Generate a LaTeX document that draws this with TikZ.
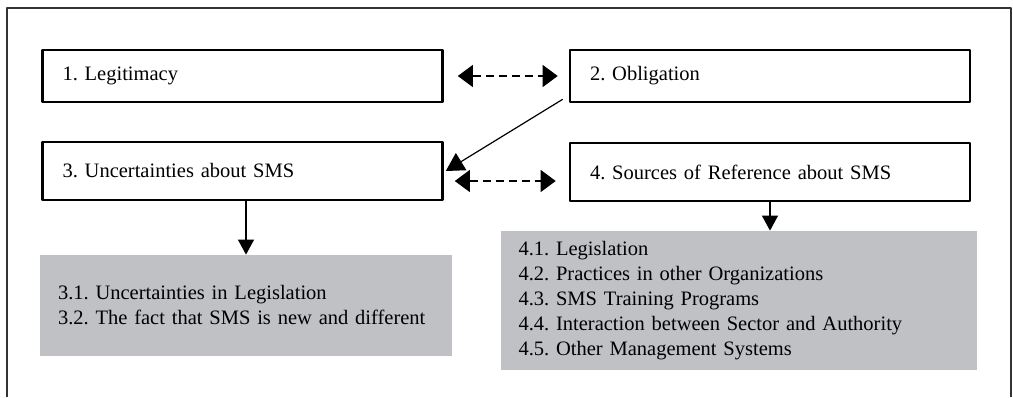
\documentclass[tikz,border=0pt]{standalone}
\usepackage{fontspec}
\setmainfont{Liberation Serif}
\usetikzlibrary{arrows.meta}
\definecolor{boxgray}{RGB}{192,193,197}
\tikzset{
  mainbox/.style={draw,line width=1.3pt,minimum height=26pt,text width=180pt,
    inner xsep=10pt,align=left},
  subbox/.style={fill=boxgray,inner xsep=9pt,align=left},
  dasharrow/.style={dashed,dash pattern=on 4pt off 2.5pt,line width=0.55pt,
    {Triangle[length=7.5pt,width=11pt]}-{Triangle[length=7.5pt,width=11pt]}},
  solidarrow/.style={line width=0.6pt,-{Triangle[length=7.5pt,width=8pt]}}
}
\begin{document}
\begin{tikzpicture}[x=0.5pt,y=-0.5pt,line join=round]
  \fontsize{10.25pt}{12.5pt}\selectfont\frenchspacing
  \useasboundingbox (0,0) rectangle (1013,397);
  % --- cornice esterna, aperta in basso
  \draw[line width=0.8pt,black!80] (7,397) -- (7,8) -- (1011,8) -- (1011,397);

  % --- i quattro riquadri principali
  \node[mainbox] (leg) at (242.5,76) {1. Legitimacy};
  \node[mainbox] (obl) at (770,76) {2. Obligation};
  \node[mainbox,minimum height=29pt] (unc) at (242.5,171) {3. Uncertainties about SMS};
  \node[mainbox,minimum height=29pt] (src) at (770,172) {4. Sources of Reference about SMS};

  % --- i due riquadri grigi di dettaglio
  \node[subbox,text width=188pt,minimum height=50.5pt] (unc-sub) at (246,305.5)
    {3.1. Uncertainties in Legislation\\
     3.2. The fact that SMS is new and different};
  \node[subbox,text width=220pt,minimum height=69.5pt] (src-sub) at (738.5,300.5)
    {4.1. Legislation\\
     4.2. Practices in other Organizations\\
     4.3. SMS Training Programs\\
     4.4. Interaction between Sector and Authority\\
     4.5. Other Management Systems};

  % --- collegamenti
  \draw[dasharrow,shorten <=7pt,shorten >=5.5pt] (leg) -- (obl);
  \draw[dasharrow,shorten <=5.5pt,shorten >=6.5pt]
    ([yshift=-5pt]unc.east) -- ([yshift=-5pt]unc.east -| src.west);
  \draw[line width=0.6pt,-{Triangle[length=9pt,width=10pt]}]
    ([shift={(-3pt,2pt)}]obl.south west) -- ([xshift=1pt]unc.east);
  \draw[solidarrow] (unc.south -| unc-sub.north) -- (unc-sub.north);
  \draw[solidarrow] (src.south) -- (src.south |- src-sub.north);
\end{tikzpicture}
\end{document}
